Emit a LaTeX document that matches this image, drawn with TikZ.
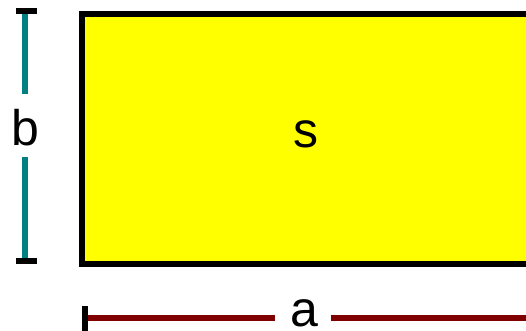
\documentclass[tikz,border=0pt]{standalone}
\usepackage{fontspec}
\setmainfont{Liberation Sans}
\definecolor{tealc}{RGB}{0,128,128}
\definecolor{maroonc}{RGB}{128,0,0}
\definecolor{areac}{RGB}{255,255,0}
\begin{document}
\begin{tikzpicture}[x=1pt,y=-1pt,
  lbl/.style={font=\fontsize{50}{60}\selectfont, inner sep=0pt, anchor=base},
  dimb/.style={draw=tealc, line width=6pt},
  dima/.style={draw=maroonc, line width=6pt},
  tickc/.style={draw=black, line width=6pt},
  area/.style={draw=black, fill=areac, line width=6pt}]
\useasboundingbox (0,0) rectangle (526,331);
\clip (0,0) rectangle (526,331);
% area
\draw[area] (82,14) rectangle (570,264);
\node[lbl] (s) at (305.5,147) {s};
% dimension b
\coordinate (bt) at (25,11);
\coordinate (bb) at (25,261);
\coordinate (b1) at (25,94);
\coordinate (b2) at (25,157);
\node[lbl] (b) at (25,145) {b};
\draw[dimb] (bt) -- (b1);
\draw[dimb] (b2) -- (bb);
\coordinate (btl) at (16,11);
\coordinate (btr) at (37,11);
\coordinate (bbl) at (16,261);
\coordinate (bbr) at (37,261);
\draw[tickc] (btl) -- (btr);
\draw[tickc] (bbl) -- (bbr);
% dimension a
\coordinate (al) at (85,318);
\coordinate (a1) at (275,318);
\coordinate (a2) at (331,318);
\coordinate (ar) at (540,318);
\node[lbl] (a) at (304,326.5) {a};
\draw[dima] (al) -- (a1);
\draw[dima] (a2) -- (ar);
\coordinate (att) at (85,306);
\coordinate (atb) at (85,336);
\draw[tickc] (att) -- (atb);
\end{tikzpicture}
\end{document}
